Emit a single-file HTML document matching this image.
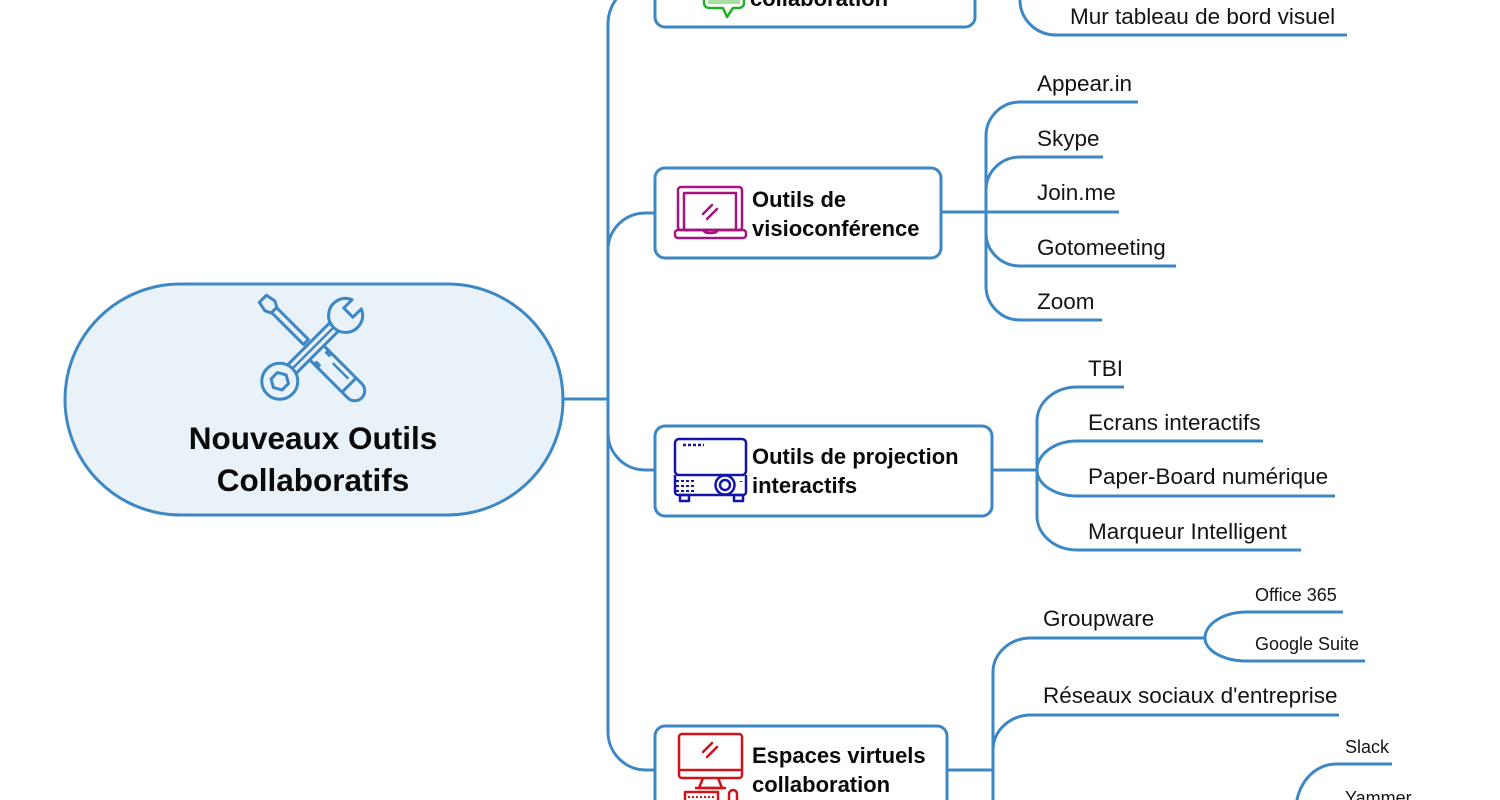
<!DOCTYPE html>
<html>
<head>
<meta charset="utf-8">
<style>
  html,body{margin:0;padding:0;background:#fff;}
  svg{display:block;}
  .ln{fill:none;stroke:#3d87c5;stroke-width:3;stroke-linecap:butt;}
  .leaf{font-family:"Liberation Sans",sans-serif;font-size:22.5px;fill:#141414;}
  .sub{font-family:"Liberation Sans",sans-serif;font-size:18px;fill:#141414;}
  .nd{font-family:"Liberation Sans",sans-serif;font-size:22px;font-weight:bold;fill:#0a0a0a;}
  .rt{font-family:"Liberation Sans",sans-serif;font-size:31.5px;font-weight:bold;fill:#0a0a0a;}
</style>
</head>
<body>
<svg width="1500" height="800" viewBox="0 0 1500 800" xmlns="http://www.w3.org/2000/svg">
  <!-- trunk -->
  <path class="ln" d="M563 399 H608"/>
  <path class="ln" d="M608 24 V732"/>
  <path class="ln" d="M608 24 A42 42 0 0 1 650 -18 H655"/>
  <path class="ln" d="M608 250 A37 37 0 0 1 645 213 H655"/>
  <path class="ln" d="M608 433 A37 37 0 0 0 645 470 H655"/>
  <path class="ln" d="M608 732 A38 38 0 0 0 646 770 H655"/>

  <!-- top right (Mur tableau) -->
  <path class="ln" d="M1020 -20 V0 A36 35 0 0 0 1056 35 H1347"/>

  <!-- visio children -->
  <path class="ln" d="M941 212 H1119"/>
  <path class="ln" d="M986 136 V286"/>
  <path class="ln" d="M986 136 A34 34 0 0 1 1020 102 H1138"/>
  <path class="ln" d="M986 190 A34 33 0 0 1 1020 157 H1103"/>
  <path class="ln" d="M986 233 A34 33 0 0 0 1020 266 H1176"/>
  <path class="ln" d="M986 286 A34 34 0 0 0 1020 320 H1102"/>

  <!-- projection children -->
  <path class="ln" d="M992 470 H1037"/>
  <path class="ln" d="M1037 421 V516"/>
  <path class="ln" d="M1037 421 A40 34 0 0 1 1077 387 H1124"/>
  <path class="ln" d="M1037 470 A40 29 0 0 1 1077 441 H1263"/>
  <path class="ln" d="M1037 470 A40 26 0 0 0 1077 496 H1335"/>
  <path class="ln" d="M1037 516 A40 34 0 0 0 1077 550 H1301"/>

  <!-- espaces children -->
  <path class="ln" d="M947 770 H993"/>
  <path class="ln" d="M993 672 V805"/>
  <path class="ln" d="M993 672 A38 34 0 0 1 1031 638 H1205"/>
  <path class="ln" d="M1205 638 A42 26 0 0 1 1247 612 H1343"/>
  <path class="ln" d="M1205 638 A42 23 0 0 0 1247 661 H1365"/>
  <path class="ln" d="M993 750 A38 35 0 0 1 1031 715 H1339"/>
  <path class="ln" d="M1296 810 A40 46 0 0 1 1336 764 H1392"/>

  <!-- root -->
  <rect x="65" y="284" width="498" height="231" rx="115.5" fill="#eaf2f9" stroke="#3d87c5" stroke-width="3"/>
  <!-- root icon -->
  <g fill="#eaf2f9" stroke="#3d87c5" stroke-width="3" stroke-linejoin="round">
    <g transform="translate(313,349) rotate(45)">
      <path d="M-71,-5 L-61,-7 L-55,-4 L-55,4 L-61,7 L-71,5 Z"/>
      <rect x="-55" y="-3.5" width="45" height="7"/>
      <path d="M2,-10 H59 A10 10 0 0 1 59,10 H2 Z"/>
      <path d="M12,-10 v3 h4 v-3 M12,10 v-3 h4 v3" fill="none"/>
      <path d="M51,-10 V10" fill="none"/>
      <path d="M24,-4 H46" fill="none" stroke-width="2.5"/>
    </g>
    <g transform="translate(313,348) rotate(-45)">
      <rect x="-34" y="-6" width="68" height="12"/>
      <path d="M-28,0 H28" fill="none" stroke-width="2.5"/>
      <path d="M61.8,-6.5 L50,-6.5 L50,6.5 L61.8,6.5 A17 17 0 1 1 61.8,-6.5 Z"/>
      <circle cx="-47" cy="0" r="18"/>
      <path d="M-38,0 L-42.5,7.8 L-51.5,7.8 L-56,0 L-51.5,-7.8 L-42.5,-7.8 Z"/>
    </g>
  </g>
  <text class="rt" x="313" y="449" text-anchor="middle">Nouveaux Outils</text>
  <text class="rt" x="313" y="491" text-anchor="middle">Collaboratifs</text>

  <!-- top node (partial) -->
  <rect x="655" y="-65" width="320" height="92" rx="10" fill="#fff" stroke="#3d87c5" stroke-width="3"/>
  <g stroke="#22b022" stroke-width="2.5" fill="#fff" stroke-linejoin="round">
    <path d="M709 -25 H739 A5 5 0 0 1 744 -20 V3 A5 5 0 0 1 739 8 H733 L727 17 L723 8 H709 A5 5 0 0 1 704 3 V-20 A5 5 0 0 1 709 -25 Z"/>
    <rect x="708" y="-4" width="32" height="8" fill="#a8e0a2" stroke="none"/>
  </g>
  <text class="nd" x="750" y="6">collaboration</text>
  <text class="leaf" x="1070" y="24">Mur tableau de bord visuel</text>

  <!-- visio node -->
  <rect x="655" y="168" width="286" height="90" rx="10" fill="#fff" stroke="#3d87c5" stroke-width="3"/>
  <g stroke="#a4137f" stroke-width="2.5" fill="none" stroke-linejoin="round">
    <rect x="678" y="187" width="64" height="43" rx="3"/>
    <rect x="684" y="193" width="52" height="37"/>
    <rect x="675" y="230" width="71" height="8" rx="3"/>
    <path d="M703 230 Q705 233 709 233 H712 Q716 233 718 230"/>
    <path d="M703 214 L712 205 M707 219 L717 209" stroke-linecap="round"/>
  </g>
  <text class="nd" x="752" y="207">Outils de</text>
  <text class="nd" x="752" y="236">visioconférence</text>

  <text class="leaf" x="1037" y="91">Appear.in</text>
  <text class="leaf" x="1037" y="146">Skype</text>
  <text class="leaf" x="1037" y="200">Join.me</text>
  <text class="leaf" x="1037" y="255">Gotomeeting</text>
  <text class="leaf" x="1037" y="309">Zoom</text>

  <!-- projection node -->
  <rect x="655" y="426" width="337" height="90" rx="10" fill="#fff" stroke="#3d87c5" stroke-width="3"/>
  <g stroke="#1414a6" stroke-width="2.5" fill="none" stroke-linejoin="round">
    <rect x="675" y="439" width="71" height="36" rx="4"/>
    <path d="M675 475 V492 A3 3 0 0 0 678 495 H743 A3 3 0 0 0 746 492 V475"/>
    <rect x="680" y="495" width="9" height="6"/>
    <rect x="734" y="495" width="9" height="6"/>
    <path d="M683 445 H704" stroke-dasharray="3 2"/>
    <circle cx="725" cy="485" r="9.5"/>
    <circle cx="725" cy="485" r="5"/>
    <path d="M676 481 H694 M676 486 H694 M676 491 H694" stroke-width="2" stroke-dasharray="3 2"/>
    <path d="M741 481 v1"/>
  </g>
  <text class="nd" x="752" y="464">Outils de projection</text>
  <text class="nd" x="752" y="493">interactifs</text>

  <text class="leaf" x="1088" y="376">TBI</text>
  <text class="leaf" x="1088" y="430">Ecrans interactifs</text>
  <text class="leaf" x="1088" y="484">Paper-Board numérique</text>
  <text class="leaf" x="1088" y="539">Marqueur Intelligent</text>

  <!-- espaces node -->
  <rect x="655" y="726" width="292" height="100" rx="10" fill="#fff" stroke="#3d87c5" stroke-width="3"/>
  <g stroke="#d0121b" stroke-width="2.5" fill="none" stroke-linejoin="round">
    <rect x="679" y="734" width="63" height="44" rx="3"/>
    <path d="M680 770 H741"/>
    <path d="M703 752 L712 743 M707 757 L717 747" stroke-linecap="round"/>
    <path d="M703 778 L699 788 H722 L718 778"/>
    <path d="M695 788 H726"/>
    <rect x="685" y="792" width="33" height="14"/>
    <path d="M688 797 H715" stroke-width="2" stroke-dasharray="2 2"/>
    <rect x="729" y="790" width="8" height="16" rx="4"/>
  </g>
  <text class="nd" x="752" y="763">Espaces virtuels</text>
  <text class="nd" x="752" y="792">collaboration</text>

  <text class="leaf" x="1043" y="626">Groupware</text>
  <text class="sub" x="1255" y="601">Office 365</text>
  <text class="sub" x="1255" y="650">Google Suite</text>
  <text class="leaf" x="1043" y="703">Réseaux sociaux d'entreprise</text>
  <text class="sub" x="1345" y="753">Slack</text>
  <text class="sub" x="1345" y="804">Yammer</text>
</svg>
</body>
</html>
